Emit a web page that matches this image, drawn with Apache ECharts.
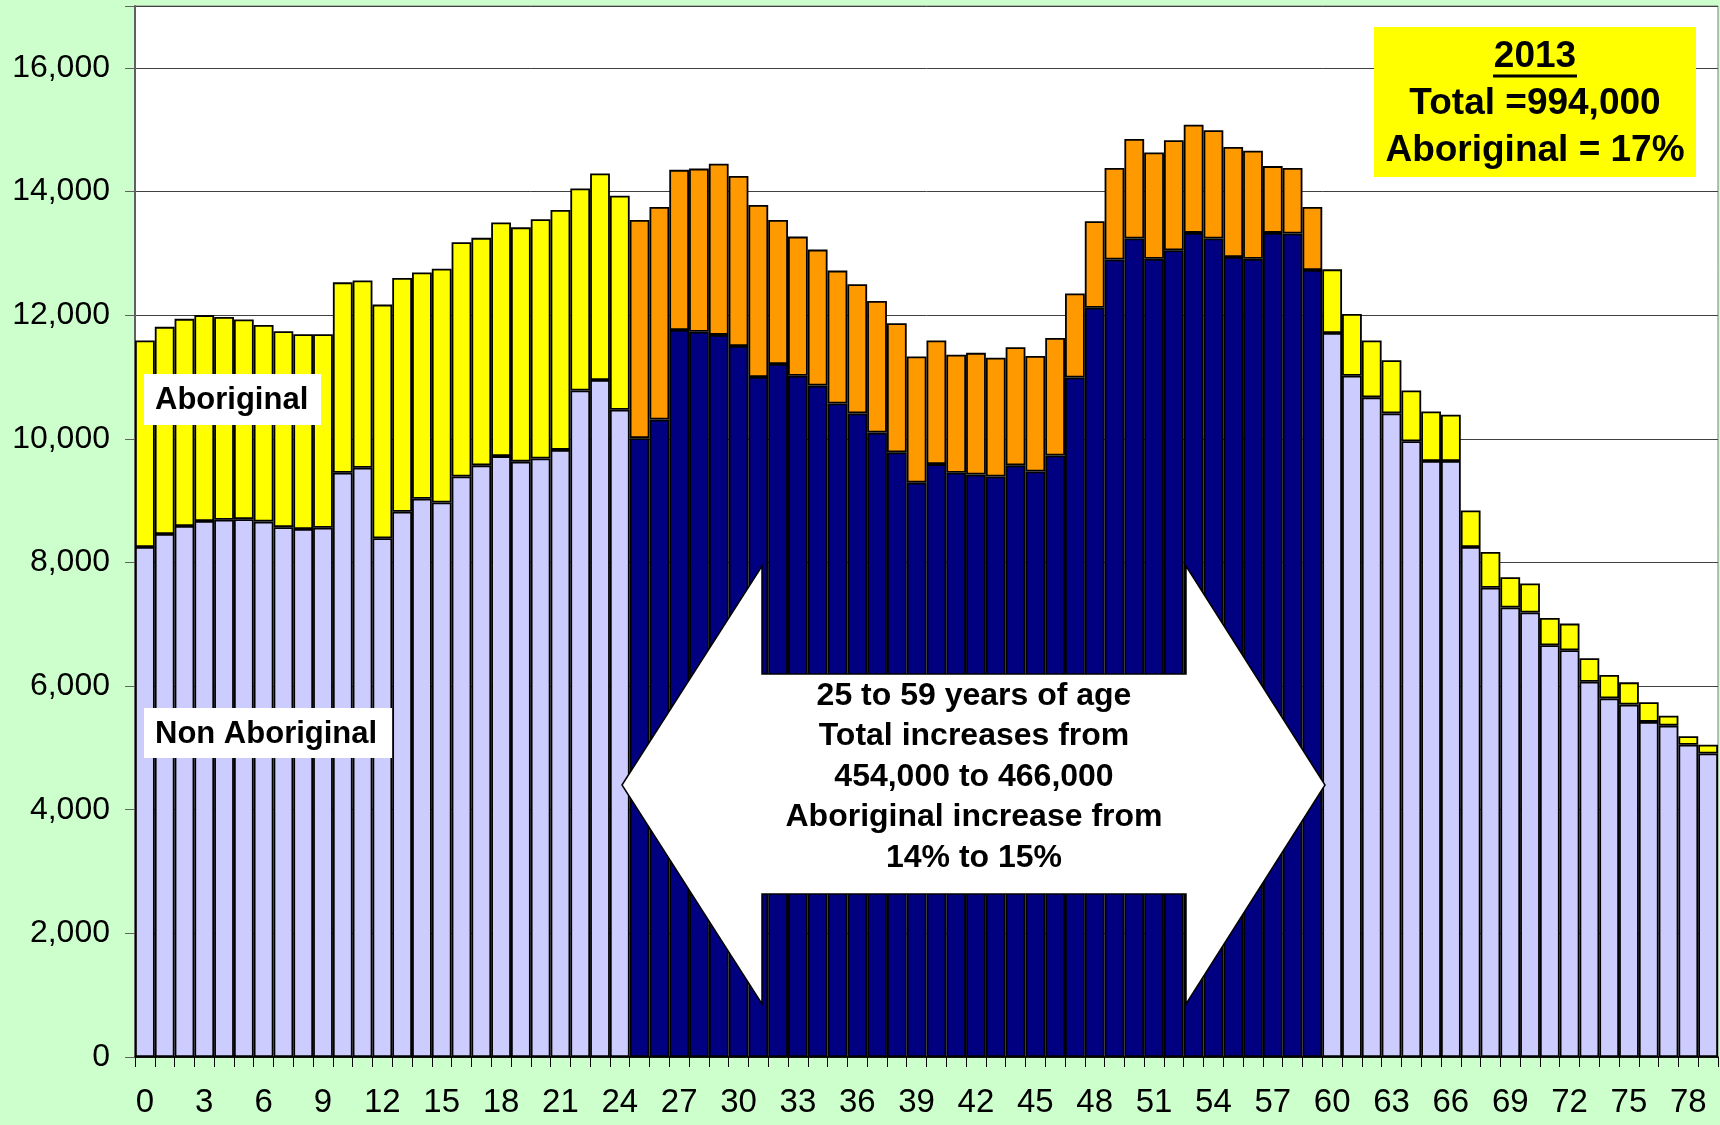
<!DOCTYPE html>
<html>
<head>
<meta charset="UTF-8">
<script src="https://cdn.jsdelivr.net/npm/echarts@6/dist/echarts.min.js"></script>
<style type="text/css">
html, body { margin: 0; padding: 0; background: #CCFFCC; }
#main { width: 1720px; height: 1125px; }
</style>
</head>
<body>
<div id="main"></div>
<script type="text/javascript">
// ages 0..79 (category axis)
var ages = [];
for (var a = 0; a < 80; a++) { ages.push(String(a)); }

// non-aboriginal population by single year of age
var nonAboriginal = [
  8250, 8460, 8590, 8670, 8690, 8700, 8660, 8570, 8540, 8560,
  9450, 9530, 8390, 8820, 9030, 8970, 9390, 9570, 9720, 9630,
  9680, 9820, 10780, 10950, 10470, 10010, 10310, 11760, 11730, 11680,
  11500, 11000, 11210, 11020, 10860, 10570, 10410, 10100, 9780, 9290,
  9590, 9450, 9420, 9390, 9570, 9470, 9730, 10990, 12120, 12900,
  13240, 12910, 13050, 13330, 13240, 12940, 12910, 13330, 13320, 12730,
  11710, 11020, 10670, 10410, 9960, 9640, 9640, 8250, 7590, 7270,
  7190, 6660, 6580, 6070, 5800, 5700, 5420, 5360, 5050, 4910
];

// aboriginal population stacked on top
var aboriginal = [
  3340, 3350, 3350, 3330, 3280, 3230, 3180, 3170, 3150, 3130,
  3080, 3030, 3780, 3780, 3660, 3780, 3790, 3680, 3780, 3790,
  3870, 3880, 3270, 3340, 3460, 3530, 3440, 2590, 2640, 2770,
  2750, 2780, 2330, 2250, 2200, 2150, 2090, 2130, 2090, 2040,
  2000, 1910, 1970, 1920, 1910, 1870, 1900, 1360, 1400, 1480,
  1610, 1720, 1780, 1750, 1750, 1780, 1750, 1080, 1060, 1020,
  1030, 1000, 920, 860, 820, 800, 750, 590, 580, 490,
  470, 440, 430, 380, 380, 360, 320, 160, 140, 140
];

// highlighted age band
var bandStart = 25;
var bandEnd = 59;

var FONT = '"Liberation Sans", Arial, sans-serif';

function inBand(i) { return i >= bandStart && i <= bandEnd; }

var myChart = echarts.init(document.getElementById('main'));

var option = {
  backgroundColor: '#CCFFCC',
  animation: false,
  grid: {
    left: 135, right: 2, top: 6, bottom: 68,
    show: true, backgroundColor: '#FFFFFF',
    borderColor: '#808080', borderWidth: 1
  },
  xAxis: {
    type: 'category',
    data: ages,
    axisLine: { lineStyle: { color: '#000', width: 1.5 } },
    axisTick: { show: true, interval: 0, length: 10, lineStyle: { color: '#000' } },
    axisLabel: { interval: 2, margin: 29, fontSize: 33, color: '#000', fontFamily: FONT }
  },
  yAxis: {
    type: 'value',
    min: 0, max: 17000, interval: 2000,
    axisLine: { show: true, lineStyle: { color: '#606060', width: 2 } },
    axisTick: { show: true, length: 10, lineStyle: { color: '#606060' } },
    splitLine: { lineStyle: { color: '#404040', width: 1 } },
    axisLabel: {
      margin: 25, fontSize: 32, color: '#000', fontFamily: FONT,
      formatter: function (v) { return v > 16000 ? '' : v.toLocaleString('en-US'); }
    }
  },
  series: [
    {
      name: 'Non Aboriginal', type: 'bar', stack: 'pop',
      barCategoryGap: '0%',
      data: nonAboriginal,
      itemStyle: {
        color: function (p) { return inBand(p.dataIndex) ? '#000080' : '#CCCCFF'; },
        borderColor: '#000', borderWidth: 1.8
      }
    },
    {
      name: 'Aboriginal', type: 'bar', stack: 'pop',
      barCategoryGap: '0%',
      data: aboriginal,
      itemStyle: {
        color: function (p) { return inBand(p.dataIndex) ? '#FF9900' : '#FFFF00'; },
        borderColor: '#000', borderWidth: 1.8
      }
    }
  ],
  graphic: [
    // double headed arrow over the 25-59 band
    {
      type: 'polygon', z: 100,
      shape: { points: [
        [622, 785], [762, 566], [762, 674], [1186, 674], [1186, 566],
        [1325, 785], [1186, 1004], [1186, 894], [762, 894], [762, 1004]
      ] },
      style: { fill: '#FFFFFF', stroke: '#000', lineWidth: 1.5 }
    },
    {
      type: 'text', z: 101, x: 974, y: 777,
      style: {
        text: '25 to 59 years of age\nTotal increases from\n454,000 to 466,000\nAboriginal increase from\n14% to 15%',
        font: 'bold 32px ' + FONT, fill: '#000',
        align: 'center', verticalAlign: 'middle', lineHeight: 40.5
      }
    },
    // series labels
    { type: 'rect', z: 100, shape: { x: 144, y: 374, width: 177, height: 51 }, style: { fill: '#FFFFFF' } },
    { type: 'text', z: 101, x: 155, y: 400,
      style: { text: 'Aboriginal', font: 'bold 31px ' + FONT, fill: '#000', verticalAlign: 'middle' } },
    { type: 'rect', z: 100, shape: { x: 144, y: 708, width: 248, height: 50 }, style: { fill: '#FFFFFF' } },
    { type: 'text', z: 101, x: 155, y: 734,
      style: { text: 'Non Aboriginal', font: 'bold 31px ' + FONT, fill: '#000', verticalAlign: 'middle' } },
    // yellow summary box
    { type: 'rect', z: 100, shape: { x: 1374, y: 27, width: 322, height: 150 }, style: { fill: '#FFFF00' } },
    { type: 'text', z: 101, x: 1535, y: 57,
      style: { text: '2013', font: 'bold 37px ' + FONT, fill: '#000', align: 'center', verticalAlign: 'middle' } },
    { type: 'line', z: 101, shape: { x1: 1493, y1: 76, x2: 1577, y2: 76 }, style: { stroke: '#000', lineWidth: 3 } },
    { type: 'text', z: 101, x: 1535, y: 104,
      style: { text: 'Total =994,000', font: 'bold 37px ' + FONT, fill: '#000', align: 'center', verticalAlign: 'middle' } },
    { type: 'text', z: 101, x: 1535, y: 151,
      style: { text: 'Aboriginal = 17%', font: 'bold 37px ' + FONT, fill: '#000', align: 'center', verticalAlign: 'middle' } }
  ]
};

myChart.setOption(option);
</script>
</body>
</html>
